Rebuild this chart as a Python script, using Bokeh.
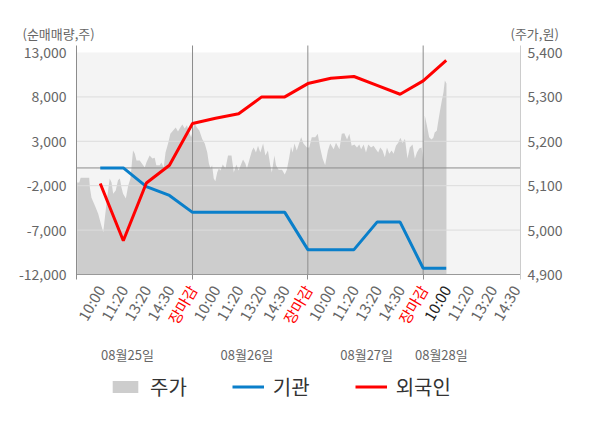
import math
from bokeh.plotting import figure
from bokeh.models import (Range1d, LinearAxis, FixedTicker, NumeralTickFormatter, Label,
                          Legend, LegendItem)
from bokeh.embed import file_html
from bokeh.resources import INLINE

FONT = "Noto Sans CJK KR"

# ---- data -------------------------------------------------------------
# x unit = one time label; each trading day spans 5 units, day close ("장마감") at 5, 10, 15
time_labels = ["10:00", "11:20", "13:20", "14:30", "장마감",
               "10:00", "11:20", "13:20", "14:30", "장마감",
               "10:00", "11:20", "13:20", "14:30", "장마감",
               "10:00", "11:20", "13:20", "14:30"]
time_pos = list(range(1, 20))
day_breaks = [5, 10, 15]
day_labels = ["08월25일", "08월26일", "08월27일", "08월28일"]
day_label_pos = [2.18, 7.36, 12.55, 15.79]

# cumulative net buying (shares) at each time label
flow_x = list(range(1, 17))
institution = [0, 0, -2100, -3100, -5000,
               -5000, -5000, -5000, -5000, -9200,
               -9200, -9200, -6100, -6100, -11300,
               -11300]
foreign = [-1750, -8200, -1700, 300, 5000,
           5600, 6100, 8000, 8000, 9500,
           10100, 10300, 9300, 8300, 9800,
           12100]

# share price (won)
price_t = [0.00, 0.09, 0.15, 0.52, 0.55, 0.62, 0.77, 0.91, 1.05, 1.13, 1.20, 1.27, 1.34, 1.41,
           1.49, 1.56, 1.67, 1.77, 1.85, 1.92, 1.99, 2.11, 2.21, 2.31, 2.42, 2.50, 2.57, 2.71,
           2.86, 2.93, 3.00, 3.14, 3.26, 3.36, 3.43, 3.58, 3.65, 3.75, 3.83, 3.94, 4.04, 4.15,
           4.27, 4.37, 4.47, 4.56, 4.66, 4.76, 4.84, 4.94,
           5.09, 5.19, 5.30, 5.42, 5.53, 5.64, 5.71, 5.78, 5.85, 5.92, 5.99, 6.07, 6.14, 6.21,
           6.31, 6.43, 6.54, 6.69, 6.79, 6.90, 7.00, 7.12, 7.19, 7.29, 7.36, 7.48, 7.58, 7.65,
           7.75, 7.84, 7.94, 8.06, 8.16, 8.27, 8.37, 8.44, 8.55, 8.62, 8.73, 8.88, 9.00, 9.09,
           9.19, 9.27, 9.34, 9.42, 9.52, 9.62, 9.71, 9.81, 9.96,
           10.06, 10.17, 10.32, 10.43, 10.53, 10.64, 10.75, 10.87, 10.97, 11.12, 11.22, 11.37,
           11.47, 11.58, 11.70, 11.80, 11.90, 12.02, 12.13, 12.23, 12.31, 12.42, 12.52, 12.62,
           12.74, 12.85, 12.95, 13.05, 13.14, 13.24, 13.34, 13.43, 13.53, 13.63, 13.72, 13.82,
           13.92, 14.01, 14.11, 14.21, 14.32, 14.42, 14.54, 14.64, 14.73, 14.83, 14.93, 15.00,
           15.07, 15.16, 15.26, 15.36, 15.44, 15.50, 15.59, 15.66, 15.73, 15.81, 15.88, 15.94,
           16.01]
price_v = [5107, 5107, 5118, 5118, 5096, 5073, 5055, 5037, 5010, 4995, 5028, 5060, 5089, 5116,
           5107, 5082, 5089, 5112, 5116, 5096, 5082, 5071, 5100, 5116, 5179, 5172, 5157, 5157,
           5146, 5141, 5152, 5168, 5161, 5163, 5146, 5146, 5152, 5141, 5175, 5195, 5217, 5224,
           5231, 5222, 5231, 5238, 5229, 5236, 5222, 5209,
           5240, 5231, 5224, 5205, 5195, 5175, 5150, 5139, 5146, 5116, 5110, 5130, 5139, 5134,
           5148, 5139, 5168, 5168, 5130, 5148, 5134, 5150, 5159, 5150, 5139, 5161, 5179, 5186,
           5175, 5190, 5175, 5195, 5168, 5179, 5146, 5130, 5168, 5146, 5136, 5136, 5125, 5136,
           5163, 5188, 5175, 5195, 5179, 5195, 5209, 5195, 5186,
           5186, 5209, 5209, 5217, 5186, 5161, 5146, 5179, 5195, 5182, 5197, 5182,
           5217, 5218, 5204, 5217, 5190, 5193, 5186, 5193, 5182, 5193, 5175, 5193,
           5186, 5190, 5182, 5175, 5186, 5179, 5164, 5186, 5172, 5179, 5172, 5190,
           5197, 5208, 5196, 5206, 5161, 5186, 5193, 5161, 5175, 5184, 5186, 5157,
           5258, 5236, 5209, 5204, 5208, 5220, 5224, 5247, 5269, 5292, 5310, 5337,
           5330]

left_ticks = [-12000, -7000, -2000, 3000, 8000, 13000]
right_ticks = [4900, 5000, 5100, 5200, 5300, 5400]

# ---- geometry (the frame covers the whole canvas; axes are fixed inside it) ----
W, H = 600, 428
PL, PR, PT, PB = 76, 520, 52, 274       # pixel box of the value scales
X0, X1 = -0.03, 19.22                   # x extent of the plot area
kx = (X1 - X0) / (PR - PL)
ky = (left_ticks[-1] - left_ticks[0]) / (PB - PT)
kp = (right_ticks[-1] - right_ticks[0]) / (PB - PT)
y_bot, y_top = left_ticks[0], left_ticks[-1]
line_top = y_top + 7 * ky                # axis / divider lines reach a bit above the top value

p = figure(width=W, height=H, output_backend="svg", toolbar_location=None,
           x_range=Range1d(X0 - PL * kx, X1 + (W - PR) * kx),
           y_range=Range1d(y_bot - (H - PB) * ky, y_top + PT * ky),
           min_border_left=0, min_border_right=0, min_border_top=0, min_border_bottom=0,
           background_fill_color="white", border_fill_color="white", outline_line_color=None)
p.title.visible = False
p.extra_y_ranges = {"price": Range1d(right_ticks[0] - (H - PB) * kp, right_ticks[-1] + PT * kp)}
p.xgrid.visible = False
p.ygrid.visible = False

# plot-area background
p.quad(left=[X0], right=[X1], bottom=[y_bot], top=[y_top], fill_color="#f4f4f4",
       line_color=None, level="image")

# price area
r_price = p.varea(x=price_t, y1=right_ticks[0], y2=price_v, y_range_name="price",
                  fill_color="#cdcdcd", level="image")

# grid lines, zero line, day dividers
grid_vals = left_ticks[1:-1]
p.segment(x0=[X0] * len(grid_vals), x1=[X1] * len(grid_vals), y0=grid_vals, y1=grid_vals,
          line_color="#dcdcdc", line_width=1, level="underlay")
p.segment(x0=[X0], x1=[X1], y0=[0], y1=[0], line_color="#8c8c8c", line_width=1,
          level="underlay")
p.segment(x0=day_breaks, x1=day_breaks, y0=[y_bot] * len(day_breaks),
          y1=[line_top] * len(day_breaks), line_color="#8c8c8c", line_width=1,
          level="underlay")

# net-buying lines
r_inst = p.line(flow_x, institution, line_color="#0a7fca", line_width=3)
r_for = p.line(flow_x, foreign, line_color="#ff0000", line_width=3)


def style_labels(ax, size="14px", color="#666666"):
    ax.major_label_text_font = FONT
    ax.major_label_text_font_size = size
    ax.major_label_text_color = color


# left axis
ya = p.yaxis[0]
ya.fixed_location = X0
ya.bounds = (y_bot - 5 * ky, line_top)
ya.ticker = FixedTicker(ticks=left_ticks)
ya.formatter = NumeralTickFormatter(format="0,0")
ya.major_tick_line_color = None
ya.minor_tick_line_color = None
ya.major_tick_out = 0
ya.major_tick_in = 0
ya.axis_line_color = "#8c8c8c"
ya.major_label_standoff = 10
style_labels(ya)

# right axis
ra = LinearAxis(y_range_name="price", ticker=FixedTicker(ticks=right_ticks),
                formatter=NumeralTickFormatter(format="0,0"))
ra.fixed_location = X1
ra.bounds = (right_ticks[0] - 5 * kp, right_ticks[-1] + 7 * kp)
ra.major_tick_line_color = None
ra.minor_tick_line_color = None
ra.major_tick_out = 0
ra.major_tick_in = 0
ra.axis_line_color = "#cccccc"
ra.major_label_standoff = 7
style_labels(ra)
p.add_layout(ra, "right")

# time axes: gray labels, red close labels, dark latest label (all at the same spot)
angle = math.pi / 3
close_pos = day_breaks
latest_pos = [16]
plain_pos = [t for t in time_pos if t not in close_pos + latest_pos]


def time_axis(ax, ticks, color, minor=None, line=None):
    ax.fixed_location = y_bot
    ax.bounds = (X0, X1)
    ax.ticker = FixedTicker(ticks=ticks, minor_ticks=minor or [])
    ax.major_label_overrides = {t: time_labels[t - 1] for t in ticks}
    ax.major_label_orientation = angle
    ax.major_tick_out = 5
    ax.major_tick_in = 0
    ax.major_tick_line_color = None
    ax.minor_tick_out = 5
    ax.minor_tick_in = 0
    ax.minor_tick_line_color = "#8c8c8c" if minor else None
    ax.axis_line_color = line
    ax.major_label_standoff = 7
    style_labels(ax, size="15px", color=color)


time_axis(p.xaxis[0], plain_pos, "#666666", minor=day_breaks, line="#999999")
for ticks, col in ((close_pos, "#ff0000"), (latest_pos, "#222222")):
    ax = LinearAxis()
    time_axis(ax, ticks, col)
    p.add_layout(ax, "below")

# date axis
da = LinearAxis(ticker=FixedTicker(ticks=day_label_pos),
                major_label_overrides={pos: lab for pos, lab in zip(day_label_pos, day_labels)})
da.fixed_location = y_bot
da.axis_line_color = None
da.major_tick_line_color = None
da.minor_tick_line_color = None
da.major_tick_out = 0
da.major_tick_in = 0
da.major_label_standoff = 70
style_labels(da, size="13px")
p.add_layout(da, "below")

# axis titles
for txt, xpos in (("(순매매량,주)", 22), ("(주가,원)", 510)):
    p.add_layout(Label(x=xpos, y=H - 33, x_units="screen", y_units="screen", text=txt,
                       text_font=FONT, text_font_size="13px", text_color="#666666",
                       text_baseline="middle", text_align="left"))

# legend
legend = Legend(items=[LegendItem(label="주가", renderers=[r_price]),
                       LegendItem(label="기관", renderers=[r_inst]),
                       LegendItem(label="외국인", renderers=[r_for])],
                orientation="horizontal", location=(109, 27), spacing=45,
                glyph_width=32, glyph_height=15, label_standoff=9,
                label_text_font=FONT, label_text_font_size="20px", label_text_color="#333333",
                border_line_color=None, background_fill_alpha=0, margin=0, padding=8)
p.add_layout(legend, "center")

with open("out.html", "w", encoding="utf-8") as f:
    f.write(file_html(p, INLINE))
